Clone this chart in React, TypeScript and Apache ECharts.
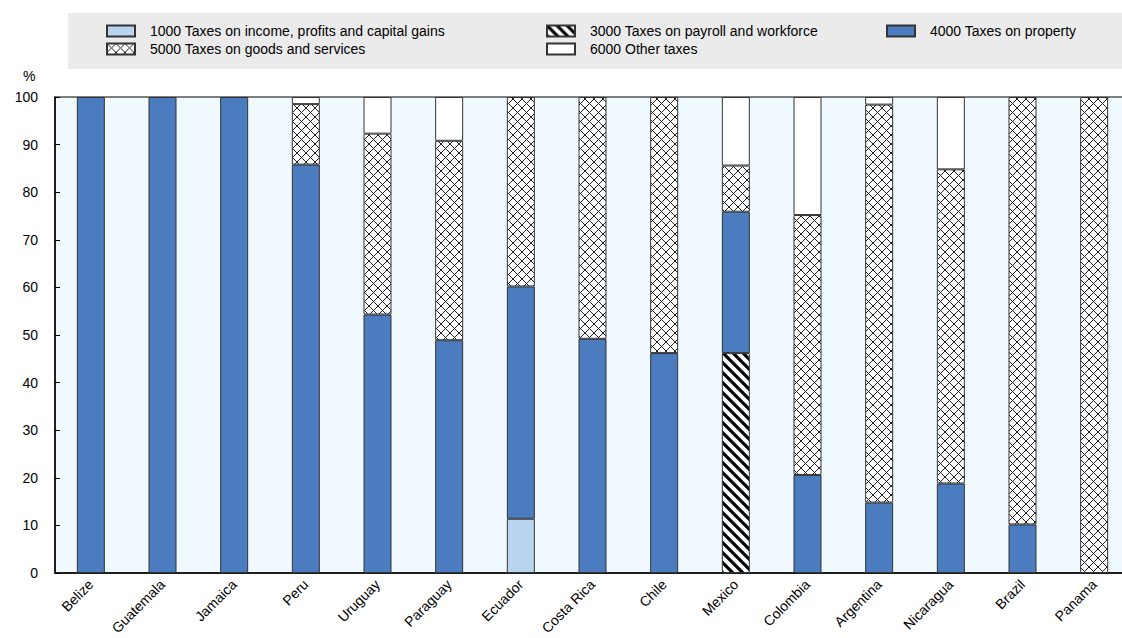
import React, { useEffect, useRef } from 'react';
import * as echarts from 'echarts';

const categories = ['Belize', 'Guatemala', 'Jamaica', 'Peru', 'Uruguay', 'Paraguay', 'Ecuador', 'Costa Rica', 'Chile', 'Mexico', 'Colombia', 'Argentina', 'Nicaragua', 'Brazil', 'Panama'];
const seriesNames = [
  '1000 Taxes on income, profits and capital gains',
  '3000 Taxes on payroll and workforce',
  '4000 Taxes on property',
  '5000 Taxes on goods and services',
  '6000 Other taxes',
];
const tax1000 = [null, null, null, null, null, null, 11.4, null, null, null, null, null, null, null, null];
const tax3000 = [null, null, null, null, null, null, null, null, null, 46.2, null, null, null, null, null];
const tax4000 = [100, 100, 100, 85.8, 54.3, 48.9, 48.8, 49.2, 46.2, 29.7, 20.6, 14.8, 18.8, 10.2, null];
const tax5000 = [null, null, null, 12.7, 38.0, 41.9, 39.8, 50.8, 53.8, 9.7, 54.6, 83.6, 66.0, 89.8, 100];
const tax6000 = [null, null, null, 1.5, 7.7, 9.2, null, null, null, 14.4, 24.8, 1.6, 15.2, null, null];
const yTicks = { min: 0, max: 100, interval: 10 };

const FONT = '"Liberation Sans", Arial, sans-serif';

function makeCross(): HTMLCanvasElement {
  const c = document.createElement('canvas');
  c.width = 9; c.height = 9;
  const ctx = c.getContext('2d')!;
  ctx.fillStyle = '#ffffff';
  ctx.fillRect(0, 0, 9, 9);
  ctx.strokeStyle = '#222222';
  ctx.lineWidth = 1;
  ctx.beginPath();
  ctx.moveTo(0, 0); ctx.lineTo(9, 9);
  ctx.moveTo(9, 0); ctx.lineTo(0, 9);
  ctx.stroke();
  return c;
}

function makeStripe(): HTMLCanvasElement {
  const c = document.createElement('canvas');
  c.width = 10; c.height = 10;
  const ctx = c.getContext('2d')!;
  ctx.fillStyle = '#ffffff';
  ctx.fillRect(0, 0, 10, 10);
  ctx.strokeStyle = '#000000';
  ctx.lineWidth = 3.2;
  ctx.beginPath();
  for (const k of [-10, 0, 10]) {
    ctx.moveTo(-3, -3 + k); ctx.lineTo(13, 13 + k);
  }
  ctx.stroke();
  return c;
}

export default function App() {
  const ref = useRef<HTMLDivElement>(null);
  useEffect(() => {
    document.body.style.margin = '0';
    const chart = echarts.init(ref.current!, null, { renderer: 'svg' });
    const cross = makeCross();
    const stripe = makeStripe();
    const border = { borderColor: '#333333', borderWidth: 1 };
    const colors: any[] = [
      '#B8D4EE',
      { image: stripe, repeat: 'repeat' },
      '#4A7CBF',
      { image: cross, repeat: 'repeat' },
      '#FFFFFF',
    ];
    const datas = [tax1000, tax3000, tax4000, tax5000, tax6000];
    const legendText = { fontSize: 14, fontFamily: FONT, color: '#000', padding: [0, 0, 0, 10], lineHeight: 16 };
    const legendBase = { orient: 'vertical', padding: 0, icon: 'rect', itemWidth: 28, itemHeight: 11, itemGap: 2, selectedMode: false, textStyle: legendText };
    chart.setOption({
      animation: false,
      textStyle: { fontFamily: FONT },
      graphic: [
        { type: 'rect', left: 68, top: 13, shape: { width: 1060, height: 56 }, style: { fill: '#EBEBEB' }, z: -10 },
        { type: 'text', left: 23, top: 69, style: { text: '%', fontSize: 14, fontFamily: FONT, fill: '#000' } },
      ],
      legend: [
        { ...legendBase, left: 106, top: 23, data: [seriesNames[0], seriesNames[3]] },
        { ...legendBase, left: 546, top: 23, data: [seriesNames[1], seriesNames[4]] },
        { ...legendBase, left: 886, top: 23, data: [seriesNames[2]] },
      ],
      grid: { left: 55, right: -8, top: 97, bottom: 65, outerBoundsMode: 'none', containLabel: false, show: true, backgroundColor: '#F0FAFE', borderColor: '#000', borderWidth: 1 },
      xAxis: {
        type: 'category',
        data: categories,
        axisLine: { lineStyle: { color: '#000', width: 1.5 } },
        axisTick: { inside: true, length: 5, lineStyle: { color: '#000' } },
        axisLabel: { rotate: 45, margin: 9, fontSize: 14, color: '#000', fontFamily: FONT, interval: 0 },
      },
      yAxis: {
        type: 'value',
        min: yTicks.min, max: yTicks.max, interval: yTicks.interval,
        axisLine: { show: true, lineStyle: { color: '#000', width: 1.5 } },
        axisTick: { show: true, inside: true, length: 5, lineStyle: { color: '#000' } },
        axisLabel: { margin: 17, fontSize: 14, color: '#000', fontFamily: FONT },
        splitLine: { show: false },
      },
      series: seriesNames.map((name, i) => ({
        name,
        type: 'bar',
        stack: 'total',
        barWidth: 28,
        data: datas[i],
        itemStyle: { color: colors[i], ...border },
        emphasis: { disabled: true },
      })),
    });
    return () => chart.dispose();
  }, []);
  return <div ref={ref} style={{ width: 1122, height: 638 }} />;
}
